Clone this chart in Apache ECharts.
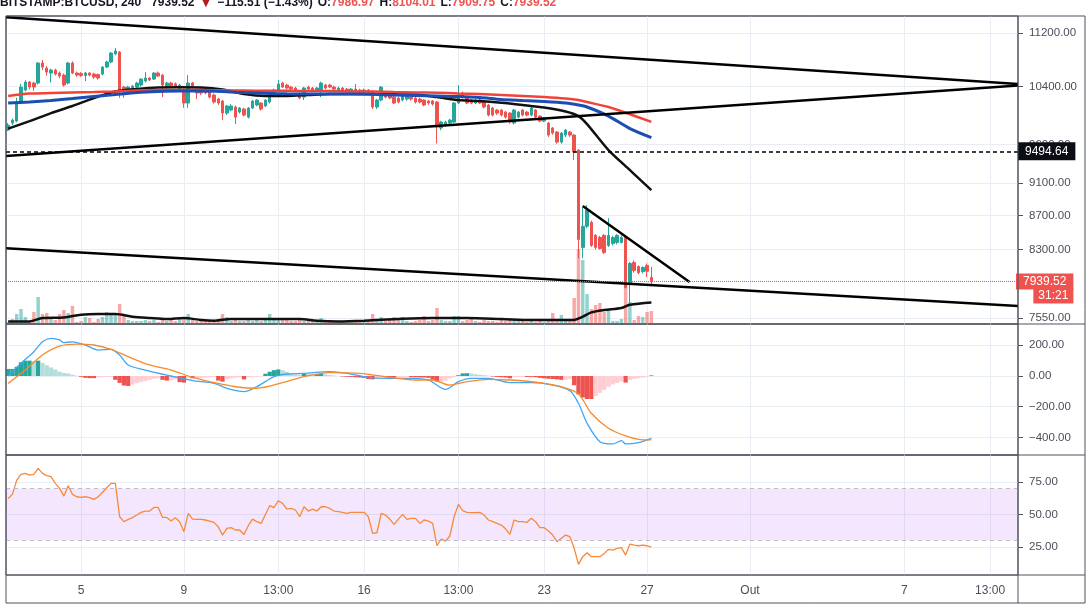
<!DOCTYPE html>
<html>
<head>
<meta charset="utf-8">
<script src="https://cdn.jsdelivr.net/npm/echarts@6.0.0/dist/echarts.min.js"></script>
<style>
  html, body { margin: 0; padding: 0; background: #fff; }
  #chart { width: 1092px; height: 614px; }
</style>
</head>
<body>
<div id="chart"></div>
<script>
// ---- data (4h candles, BITSTAMP:BTCUSD) ----
const symbolName = 'BITSTAMP:BTCUSD, 240';
const slotCount = 236;               // 4h slots on the time axis (incl. empty right margin)
const dayLabels = [[17, '5'], [41, '9'], [63, '13:00'], [83, '16'], [105, '13:00'],
                   [125, '23'], [149, '27'], [173, 'Out'], [209, '7'], [229, '13:00']];
const priceTicks = [7550, 8300, 8700, 9100, 9600, 10400, 11200];
const macdTicks = [-400, -200, 0, 200];
const rsiTicks = [25, 50, 75];
const priceRange = [7488, 11467];
const macdRange = [-515, 339];
const rsiRange = [3.5, 95.8];
const rsiBand = [30, 70];
const levelPrice = 9494.64;
const countdown = '31:21';

// [open, close, low, high]
const ohlc = [
  [9793,9861,9780,9888],[9888,9929,9860,9950],[9915,10180,9900,10240],[10180,10393,10150,10440],[10350,10466,10330,10490],
  [10466,10393,10360,10480],[10450,10393,10340,10470],[10451,10745,10430,10760],[10745,10685,10640,10790],[10670,10611,10560,10700],
  [10597,10641,10460,10660],[10641,10582,10560,10660],[10597,10553,10520,10620],[10567,10422,10400,10590],[10451,10745,10430,10760],
  [10745,10597,10580,10770],[10597,10567,10540,10620],[10590,10560,10540,10610],[10560,10597,10480,10615],[10597,10567,10550,10610],
  [10582,10538,10510,10600],[10575,10524,10500,10590],[10582,10685,10560,10700],[10685,10760,10670,10780],[10760,10894,10740,10910],
  [10880,10925,10860,10970],[10910,10350,10240,10925],[10393,10336,10240,10410],[10350,10393,10330,10410],[10364,10408,10340,10420],
  [10393,10451,10380,10470],[10422,10509,10400,10520],[10480,10524,10460,10610],[10524,10495,10480,10540],[10509,10597,10495,10610],
  [10597,10553,10540,10620],[10567,10422,10250,10580],[10393,10451,10370,10470],[10451,10408,10390,10470],[10440,10408,10390,10460],
  [10350,10422,10330,10440],[10350,10166,10100,10370],[10166,10451,10100,10567],[10451,10408,10380,10470],[10350,10307,10220,10370],
  [10364,10307,10280,10380],[10379,10307,10290,10390],[10321,10250,10230,10340],[10279,10180,10160,10300],[10222,10166,10140,10240],
  [10194,10026,9929,10210],[10026,10124,10000,10140],[10068,10124,10050,10150],[10110,9970,9875,10130],[10040,10096,10020,10110],
  [10082,9998,9980,10100],[9970,10096,9950,10110],[10096,10194,10080,10210],[10138,10208,10120,10220],[10166,10082,10060,10180],
  [10124,10208,10110,10220],[10180,10250,10160,10270],[10279,10350,10260,10370],[10350,10437,10330,10495],[10451,10393,10380,10470],
  [10422,10379,10360,10440],[10393,10364,10350,10410],[10379,10350,10330,10395],[10300,10236,10220,10350],[10250,10379,10208,10395],
  [10393,10364,10350,10410],[10379,10350,10335,10395],[10336,10379,10320,10395],[10350,10451,10250,10470],[10422,10379,10360,10440],
  [10422,10393,10380,10440],[10393,10364,10340,10410],[10350,10379,10330,10400],[10379,10350,10330,10395],[10364,10336,10320,10380],
  [10336,10364,10320,10380],[10364,10336,10320,10437],[10350,10321,10300,10370],[10321,10350,10300,10370],[10350,10321,10300,10365],
  [10321,10110,10082,10340],[10110,10208,10082,10222],[10208,10393,10190,10408],[10307,10250,10230,10340],[10279,10236,10220,10300],
  [10250,10166,10150,10265],[10236,10180,10160,10250],[10208,10265,10190,10280],[10222,10265,10200,10280],[10250,10222,10200,10270],
  [10236,10180,10160,10250],[10222,10180,10160,10240],[10208,10138,10120,10222],[10194,10166,10140,10210],[10194,10152,10130,10208],
  [10180,9834,9613,10194],[9820,9902,9790,9920],[9861,9902,9840,9920],[9888,9929,9870,9945],[9902,10166,9890,10180],
  [10166,10279,10150,10422],[10307,10250,10230,10330],[10236,10166,10150,10250],[10208,10166,10150,10222],[10166,10208,10150,10222],
  [10208,10166,10150,10222],[10180,10110,10090,10194],[10138,9998,9980,10150],[10096,9998,9980,10110],[10068,10026,10000,10082],
  [10068,9998,9980,10082],[10040,9970,9950,10054],[10026,9902,9880,10040],[9888,10068,9870,10082],[9970,10040,9950,10054],
  [10068,9998,9980,10082],[10040,9998,9980,10054],[9998,10096,9980,10110],[10068,9970,9950,10082],[9984,9915,9900,9998],
  [9915,9957,9900,9970],[9888,9725,9700,9902],[9820,9752,9730,9834],[9766,9631,9610,9780],[9631,9752,9610,9766],
  [9725,9793,9700,9806],[9766,9725,9700,9780],[9725,9499,9394,9740],[9525,8418,8200,9540],[8325,8572,8200,8800],
  [8572,8764,8550,8826],[8619,8348,8330,8640],[8465,8325,8300,8480],[8441,8313,8300,8460],[8465,8267,8250,8480],
  [8348,8465,8330,8668],[8371,8441,8350,8460],[8383,8465,8360,8480],[8383,8441,8370,8465],[8441,7875,7865,8465],
  [7919,8142,7702,8160],[8153,8063,8040,8176],[8108,8040,8020,8120],[8052,8097,8030,8110],[8120,8055.03,7990,8142],
  [7986.97,7939.52,7909.75,8104.01]
];

const volume = [
  2,5,10,15,7,3,12,27,10,11, 5,4,10,14,11,18,2,3,7,6, 2,5,7,12,10,10,20,8,4,3,
  3,3,4,3,4,2,5,3,4,3, 6,7,10,4,3,3,3,3,3,5, 10,7,3,4,3,3,4,3,4,3,
  4,10,5,6,4,5,3,3,4,3, 5,3,2,6,3,3,2,3,3,2, 4,3,2,3,4,10,5,7,3,4,
  7,5,7,3,2,3,4,8,3,4, 16,4,3,3,8,8,3,4,5,3, 2,4,3,3,2,5,3,6,4,3,
  5,2,3,2,3,2,4,11,4,9, 4,3,26,75,64,30,15,19,21,12, 14,3,3,5,40,22,4,8,7,12, 13
];

// moving averages sampled every few candles: [candle index] -> value
const maIdx = [0,5,10,15,20,25,30,35,40,45,50,55,60,65,70,75,80,85,90,95,100,105,110,115,120,125,130,133,135,140,145,150];
const maRed = [10265,10300,10307,10314,10321,10331,10343,10350,10350,10350,10346,10343,10340,10340,10336,10336,
               10331,10329,10321,10317,10311,10302,10293,10279,10265,10250,10229,10208,10180,10110,10010,9904];
const maBlue = [10166,10180,10201,10229,10258,10286,10314,10329,10336,10336,10329,10314,10303,10296,10293,10293,
                10293,10289,10279,10272,10265,10258,10243,10215,10201,10187,10166,10138,10110,9984,9813,9691];
const maBlack = [9813,9915,10026,10124,10236,10329,10364,10386,10389,10386,10357,10293,10265,10265,10279,10293,
                 10293,10293,10289,10286,10250,10208,10194,10170,10138,10103,10047,9984,9874,9525,9265,9011];

const volMaIdx = [0,5,8,13,17,21,25,29,33,37,41,45,48,52,60,68,72,77,83,91,99,107,115,122,130,132,134,136,139,143,145,150];
const volMa = [2.6,2.6,6,6.6,9.3,10,10,7.3,6,5,6,4,3.3,5,5,5,3.3,2.6,3.3,5,6,6,5,4,4,4,7.3,11.6,14,16,19.3,21.6];

// drawn trend lines: [[candle index, price], [candle index, price]]
const trendLines = [
  [[-0.5, 11446], [235.5, 10437]],
  [[-0.5, 9447], [235.5, 10415]],
  [[-0.5, 8316], [235.5, 7677]],
  [[134, 8815], [158.9, 7935]]
];

const macdIdx = [0,3,6,8,10,12,13,15,18,21,24,26,28,32,38,43,48,51,55,58,62,65,69,75,79,84,89,94,98,102,
                 105,108,112,117,122,127,131,133,135,138,141,143,144,147,150];
const macdLine = [0,83,158,223,245,235,217,223,202,169,174,137,72,39,0,-30,-48,-80,-102,-70,-4,13,17,28,17,-9,-15,-15,-26,-87,
                  -37,-15,-15,-43,-43,-59,-96,-178,-308,-428,-443,-421,-443,-434,-406];
const signalIdx = [0,4,8,12,16,20,24,28,33,38,43,48,53,58,64,69,75,82,89,95,99,103,107,112,117,124,129,133,136,140,144,147,150];
const signalLine = [-48,39,137,195,208,202,174,126,72,39,-9,-43,-70,-80,-43,-4,22,17,-9,-26,-26,-59,-37,-22,-26,-43,-70,
                    -117,-243,-341,-391,-413,-417];
const macdHist = [
  46,46,60,90,100,100,97,100,85,70, 56,42,28,20,17,8,2,-5,-12,-14, -14,-10,-8,-6,-5,-25,-45,-62,-65,-55,
  -45,-38,-32,-25,-18,-15,-25,-30,-28,-20, -40,-43,-12,-15,-14,-12,-10,-8,-6,-30, -37,-20,-15,-10,-8,-22,-10,-6,-4,-2,
  15,28,38,43,38,28,18,10,8,15, 12,10,12,15,10,6,3,0,-3,-5, -6,-8,-10,-12,-20,-22,-12,-6,-8,-10,
  -10,-9,-8,-7,-8,-9,-10,-10,-12,-25, -37,-36,-30,-15,-8,5,17,18,17,12, 8,5,2,-3,-6,-8,-10,-15,-8,-6,
  -5,-6,-6,-8,-12,-15,-18,-20,-22,-25, -24,-20,-60,-120,-140,-150,-150,-130,-110,-90, -70,-55,-45,-35,-43,-25,-18,-15,-10,-5,
  4
];
const rsi = [
  62.4,65.5,76.5,80.9,81.7,80.4,80.9,85.5,81.7,79.9, 79.1,74,70.1,64.2,72.2,65.5,63.7,63.2,63.7,63,
  61.7,63.7,67,70.6,74,74,48.3,44.5,46.3,47.6, 49.6,51.7,52.7,52.7,55.5,55.5,47.8,47.8,45,47.6,
  44.5,36.8,50.9,46.5,46.3,46.3,45.8,45,44,40.6, 34.2,39.4,39.9,38.1,38.1,34.7,41.4,46.5,44.5,43.2,
  50.1,56.8,55.3,60.6,58.6,54.2,54.7,53.5,48.3,56, 52.7,54.2,52.7,56,56,54.7,52.7,52.2,51.7,50.9,
  51.7,51.7,51.7,51.7,48.3,35.5,36,50.9,49.6,46.5, 42.4,46.5,50.1,46.3,47.1,47.1,43.2,45.8,45,43.2,
  26,31.2,29.6,33.5,48.3,57.8,53,51.7,51.4,51.4, 51.7,49.6,45.8,44.5,43.2,41.9,39,34.7,45.8,44.5,
  44.5,44,47.1,44.5,39.9,39.9,37.3,34.2,29.1,31.7, 34.2,33,24,11.7,17.6,20.6,17.6,17.6,17.6,20.1,
  23.2,22.7,24,24.5,18.8,27.3,26.5,26,26.5,26, 25
];

// ---- styling ----
const UP = '#26a69a', DOWN = '#ef5350';
const FRAME = '#50535e', GRIDLINE = '#e9eef5', TEXT = '#4a4e59';
const FONT = 'Liberation Sans';
const L = 6, R = 1018, T = 16, PB = 324, MB = 455, RB = 575, AB = 603, FR = 1085;
const W = R - L;

const categories = Array.from({ length: slotCount }, () => '');
dayLabels.forEach(([i, t]) => { categories[i] = t; });
const dayIdx = dayLabels.map(d => d[0]);

const lg = Math.log;
const fmt = v => (v < -1e-9 ? '\u2212' : '') + Math.abs(v).toFixed(2);

const last = ohlc[ohlc.length - 1];
const prevClose = ohlc[ohlc.length - 2][1];
const change = last[1] - prevClose;
const pct = change / prevClose * 100;

function catAxis(grid, showLabels) {
  return {
    type: 'category', gridIndex: grid, data: categories, boundaryGap: true,
    axisLine: { show: false, onZero: false }, axisTick: { show: false }, splitLine: { show: false },
    axisLabel: showLabels ? {
      show: true, interval: (i, v) => v !== '', color: TEXT, fontSize: 12, fontFamily: FONT, margin: 10
    } : { show: false }
  };
}
function idxAxis(grid) {
  return {
    type: 'value', gridIndex: grid, min: -0.5, max: slotCount - 0.5,
    axisLine: { show: false, onZero: false }, axisLabel: { show: false },
    axisTick: { show: false, customValues: dayIdx },
    splitLine: { show: true, lineStyle: { color: GRIDLINE, width: 1 } }
  };
}
function rightAxis(grid, range, ticks, toVal, fromVal) {
  return {
    type: 'value', gridIndex: grid, position: 'right',
    min: toVal(range[0]), max: toVal(range[1]),
    axisLine: { show: false, onZero: false },
    axisTick: { show: true, length: 5, customValues: ticks.map(toVal), lineStyle: { color: FRAME } },
    axisLabel: {
      customValues: ticks.map(toVal), margin: 11, color: TEXT, fontSize: 11.5, fontFamily: FONT,
      formatter: v => fmt(fromVal(v))
    },
    splitLine: { show: true, lineStyle: { color: GRIDLINE, width: 1 } }
  };
}
const ident = v => v;
const gridBase = { left: L, width: W, show: true, borderColor: FRAME, borderWidth: 1, backgroundColor: 'transparent' };
const tagLabel = { color: '#fff', padding: [2, 7], fontSize: 12, lineHeight: 14, fontFamily: FONT };

const series = [];

series.push({
  type: 'candlestick', xAxisIndex: 0, yAxisIndex: 0, barWidth: '70%',
  data: ohlc.map(c => c.map(lg)),
  itemStyle: { color: UP, color0: DOWN, borderColor: UP, borderColor0: DOWN, borderWidth: 1 },
  markLine: {
    silent: true, symbol: ['none', 'none'], animation: false,
    data: [
      {
        yAxis: lg(levelPrice),
        lineStyle: { color: '#000', type: [4, 3], width: 1.5 },
        label: Object.assign({ position: 'end', distance: 0, formatter: levelPrice.toFixed(2),
                               backgroundColor: '#0c0e15' }, tagLabel)
      },
      {
        yAxis: lg(last[1]),
        lineStyle: { color: DOWN, type: 'dotted', width: 1 },
        label: {
          position: 'end', distance: -2,
          formatter: '{s|' + countdown + '}\n{a|' + last[1].toFixed(2) + '}\n{b|' + countdown + '}',
          rich: {
            s: Object.assign({}, tagLabel, { color: 'rgba(0,0,0,0)', align: 'right', padding: [2, 5] }),
            a: Object.assign({}, tagLabel, { backgroundColor: DOWN }),
            b: Object.assign({}, tagLabel, { backgroundColor: DOWN, align: 'right', padding: [2, 5] })
          }
        }
      }
    ]
  }
});

[[maBlack, '#111', 2.5], [maRed, '#f0433a', 2.5], [maBlue, '#1b4db3', 3]].forEach(([vals, color, w]) => {
  series.push({
    type: 'line', xAxisIndex: 1, yAxisIndex: 0, showSymbol: false, smooth: 0.25, silent: true,
    data: maIdx.map((i, k) => [i, lg(vals[k])]),
    lineStyle: { color, width: w }
  });
});

trendLines.forEach(seg => {
  series.push({
    type: 'line', xAxisIndex: 1, yAxisIndex: 0, showSymbol: false, silent: true,
    data: seg.map(([i, p]) => [i, lg(p)]),
    lineStyle: { color: '#000', width: 2.5 }
  });
});

series.push({
  type: 'bar', xAxisIndex: 2, yAxisIndex: 1, barWidth: '80%', silent: true,
  data: volume.map((v, i) => ({
    value: v,
    itemStyle: { color: ohlc[i][1] >= ohlc[i][0] ? 'rgba(38,166,154,0.5)' : 'rgba(239,83,80,0.5)' }
  }))
});
series.push({
  type: 'line', xAxisIndex: 3, yAxisIndex: 1, showSymbol: false, smooth: 0.3, silent: true,
  data: volMaIdx.map((i, k) => [i, volMa[k]]),
  lineStyle: { color: '#111', width: 2.5 }
});

series.push({
  type: 'bar', xAxisIndex: 4, yAxisIndex: 2, barWidth: '100%', silent: true,
  data: macdHist.map((v, i) => {
    const prev = i > 0 ? macdHist[i - 1] : v;
    let color;
    if (v >= 0) color = v >= prev ? '#26a69a' : '#b2dfdb';
    else color = v <= prev ? '#ef5350' : '#ffcdd2';
    return { value: v, itemStyle: { color } };
  })
});
series.push({
  type: 'line', xAxisIndex: 5, yAxisIndex: 2, showSymbol: false, smooth: 0.3, silent: true,
  data: macdIdx.map((i, k) => [i, macdLine[k]]),
  lineStyle: { color: '#3ea6f5', width: 1.3 }
});
series.push({
  type: 'line', xAxisIndex: 5, yAxisIndex: 2, showSymbol: false, smooth: 0.3, silent: true,
  data: signalIdx.map((i, k) => [i, signalLine[k]]),
  lineStyle: { color: '#f88a2c', width: 1.3 }
});

series.push({
  type: 'line', xAxisIndex: 6, yAxisIndex: 3, showSymbol: false, silent: true,
  data: rsi, lineStyle: { color: '#f7893b', width: 1.3 },
  markArea: {
    silent: true,
    itemStyle: { color: 'rgba(150,20,240,0.1)' },
    data: [[{ yAxis: rsiBand[0] }, { yAxis: rsiBand[1] }]]
  },
  markLine: {
    silent: true, symbol: ['none', 'none'], label: { show: false },
    lineStyle: { color: '#c2b9c8', type: [4, 4], width: 1 },
    data: [{ yAxis: rsiBand[0] }, { yAxis: rsiBand[1] }]
  }
});

const option = {
  animation: false,
  backgroundColor: '#fff',
  title: {
    left: 0, top: -6, padding: 0,
    text: '{b|' + symbolName + '}  {n|' + last[1].toFixed(2) + '} {d|\u25BC} {n|' + fmt(change) + ' (' + fmt(pct) + '%)} ' +
          '{n|O:}{r|' + last[0].toFixed(2) + '} {n|H:}{r|' + last[3].toFixed(2) + '} ' +
          '{n|L:}{r|' + last[2].toFixed(2) + '} {n|C:}{r|' + last[1].toFixed(2) + '}',
    textStyle: {
      rich: {
        b: { fontFamily: FONT, fontSize: 12, fontWeight: 'bold', color: '#131722', lineHeight: 18 },
        n: { fontFamily: FONT, fontSize: 12, color: '#131722', lineHeight: 18 },
        d: { fontFamily: FONT, fontSize: 13, color: '#b71c1c', lineHeight: 18 },
        r: { fontFamily: FONT, fontSize: 12, color: DOWN, lineHeight: 18 }
      }
    }
  },
  grid: [
    Object.assign({ top: T, height: PB - T }, gridBase),
    { left: L, width: W, top: PB - 80, height: 80, show: false },
    Object.assign({ top: PB, height: MB - PB }, gridBase),
    Object.assign({ top: MB, height: RB - MB }, gridBase)
  ],
  xAxis: [catAxis(0, false), idxAxis(0), catAxis(1, false),
          Object.assign(idxAxis(1), { splitLine: { show: false } }),
          catAxis(2, false), idxAxis(2), catAxis(3, true), idxAxis(3)],
  yAxis: [
    rightAxis(0, priceRange, priceTicks, lg, Math.exp),
    { type: 'value', gridIndex: 1, min: 0, max: 80, show: false, splitLine: { show: false } },
    rightAxis(2, macdRange, macdTicks, ident, ident),
    rightAxis(3, rsiRange, rsiTicks, ident, ident)
  ],
  graphic: [
    { type: 'rect', silent: true, z: 100, shape: { x: L, y: T, width: FR - L, height: AB - T },
      style: { fill: 'none', stroke: FRAME, lineWidth: 1 } },
    { type: 'line', silent: true, z: 100, shape: { x1: R, y1: T, x2: R, y2: AB }, style: { stroke: FRAME, lineWidth: 1 } },
    { type: 'line', silent: true, z: 100, shape: { x1: L, y1: PB, x2: FR, y2: PB }, style: { stroke: FRAME, lineWidth: 1 } },
    { type: 'line', silent: true, z: 100, shape: { x1: L, y1: MB, x2: FR, y2: MB }, style: { stroke: FRAME, lineWidth: 1 } },
    { type: 'line', silent: true, z: 100, shape: { x1: L, y1: RB, x2: FR, y2: RB }, style: { stroke: FRAME, lineWidth: 1 } }
  ],
  series
};

const chart = echarts.init(document.getElementById('chart'));
chart.setOption(option);
</script>
</body>
</html>
